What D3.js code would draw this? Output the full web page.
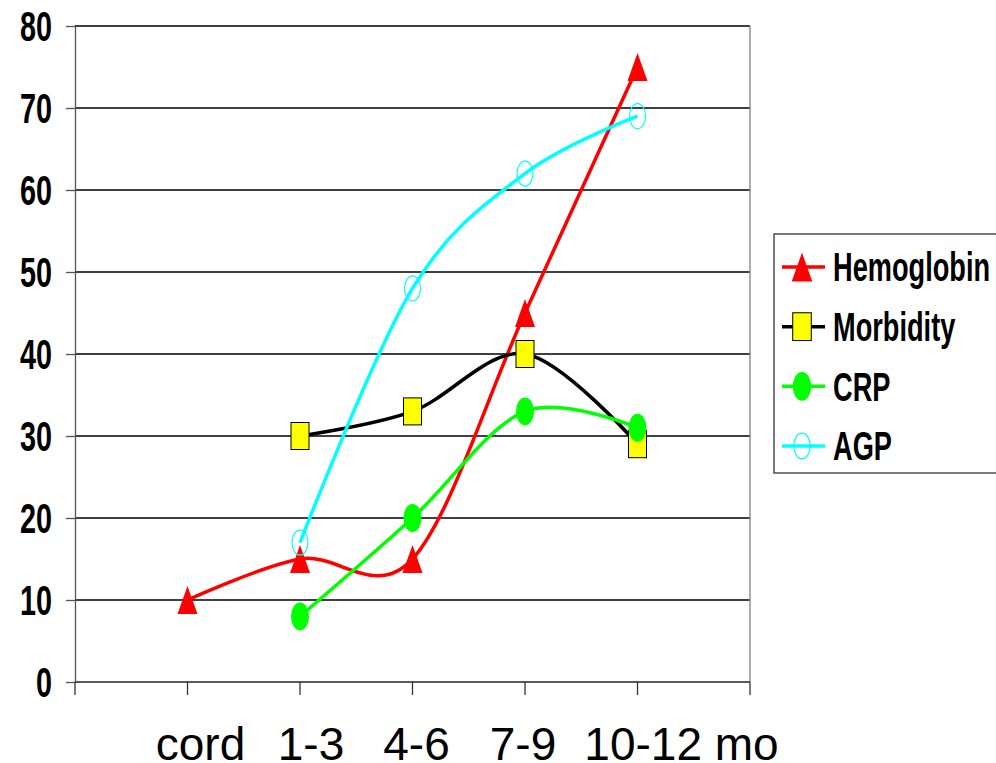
<!DOCTYPE html>
<html>
<head>
<meta charset="utf-8">
<script src="https://cdn.jsdelivr.net/npm/d3@7"></script>
<style>
  body { margin: 0; background: #fff; }
  svg { display: block; font-family: Arial, "Liberation Sans", sans-serif; }
</style>
</head>
<body>
<div id="chart"></div>
<script>
// categories and values
var categories = ["cord", "1-3", "4-6", "7-9", "10-12 mo"];
var yTicks = [0, 10, 20, 30, 40, 50, 60, 70, 80];
var seriesNames = ["Hemoglobin", "Morbidity", "CRP", "AGP"];
var hemoglobin = [10, 15, 15, 45, 75];
var morbidity = [null, 30, 33, 40, 29];
var crp = [null, 8, 20, 33, 31];
var agp = [null, 17, 48, 62, 69];

var width = 996, height = 763;
var plot = {left: 75, right: 750, top: 26, bottom: 682};

var svg = d3.select("#chart")
  .append("svg")
    .attr("width", width)
    .attr("height", height);

var x = d3.scalePoint()
  .domain(categories)
  .range([plot.left, plot.right])
  .padding(1);

var y = d3.scaleLinear()
  .domain([0, 80])
  .range([plot.bottom, plot.top]);

// gridlines
svg.append("g")
  .selectAll("line")
  .data(yTicks.filter(function(d) { return d > 0; }))
  .enter()
  .append("line")
    .attr("x1", plot.left).attr("x2", plot.right)
    .attr("y1", function(d) { return y(d); })
    .attr("y2", function(d) { return y(d); })
    .attr("stroke", "#000")
    .attr("stroke-width", 1.3);

// right border of plot area
svg.append("line")
  .attr("x1", plot.right).attr("x2", plot.right)
  .attr("y1", plot.top).attr("y2", plot.bottom)
  .attr("stroke", "#808080")
  .attr("stroke-width", 1.3);

// y axis
var yAxis = svg.append("g")
  .attr("transform", "translate(" + plot.left + ",0)")
  .call(d3.axisLeft(y).tickValues(yTicks).tickSize(9).tickSizeOuter(0).tickFormat(""));
yAxis.select(".domain").attr("stroke", "#555").attr("stroke-width", 1.3);
yAxis.selectAll(".tick line").attr("stroke", "#555").attr("stroke-width", 1.3);

svg.append("g")
  .selectAll("text")
  .data(yTicks)
  .enter()
  .append("text")
    .attr("transform", function(d) { return "translate(52," + y(d) + ") scale(0.67,1)"; })
    .attr("text-anchor", "end")
    .attr("dy", "0.36em")
    .style("font-size", "43px")
    .style("font-weight", "bold")
    .text(function(d) { return d; });

// x axis: ticks at the plot edges and at every category
var xTickPos = [plot.left].concat(categories.map(function(c) { return x(c); }), [plot.right]);
svg.append("line")
  .attr("x1", plot.left).attr("x2", plot.right)
  .attr("y1", plot.bottom).attr("y2", plot.bottom)
  .attr("stroke", "#222")
  .attr("stroke-width", 1.3);
svg.append("g")
  .selectAll("line")
  .data(xTickPos)
  .enter()
  .append("line")
    .attr("x1", function(d) { return d; })
    .attr("x2", function(d) { return d; })
    .attr("y1", plot.bottom).attr("y2", plot.bottom + 13)
    .attr("stroke", "#333")
    .attr("stroke-width", 1.3);

// category labels sit a little off their ticks, like the typed label row
var labelShift = [13, 11, 4, -2, 44];
svg.append("g")
  .selectAll("text")
  .data(categories)
  .enter()
  .append("text")
    .attr("x", function(d, i) { return x(d) + labelShift[i]; })
    .attr("y", 760)
    .attr("text-anchor", "middle")
    .style("font-size", "46px")
    .text(function(d) { return d; });

// series
var series = [
  {name: seriesNames[0], values: hemoglobin, color: "#ff0000", marker: "triangle"},
  {name: seriesNames[1], values: morbidity, color: "#000000", marker: "square"},
  {name: seriesNames[2], values: crp, color: "#00ff00", marker: "circle"},
  {name: seriesNames[3], values: agp, color: "#00ffff", marker: "open"}
];

var line = d3.line()
  .x(function(d) { return x(d.c); })
  .y(function(d) { return y(d.v); })
  .curve(d3.curveCardinal.tension(0));

function drawMarker(g, type, cx, cy, s) {
  if (type == "triangle") {
    g.append("path")
      .attr("d", "M" + cx + "," + (cy - 14 * s) + "L" + (cx + 10 * s) + "," + (cy + 14 * s) + "L" + (cx - 10 * s) + "," + (cy + 14 * s) + "Z")
      .attr("fill", "#ff0000");
  } else if (type == "square") {
    g.append("rect")
      .attr("x", cx - 9 * s).attr("y", cy - 13.5 * s)
      .attr("width", 18 * s).attr("height", 27 * s)
      .attr("fill", "#ffff00")
      .attr("stroke", "#000")
      .attr("stroke-width", 1);
  } else if (type == "circle") {
    g.append("ellipse")
      .attr("cx", cx).attr("cy", cy)
      .attr("rx", 9 * s).attr("ry", 14 * s)
      .attr("fill", "#00ff00");
  } else {
    g.append("ellipse")
      .attr("cx", cx).attr("cy", cy)
      .attr("rx", 8 * s).attr("ry", 12.5 * s)
      .attr("fill", "none")
      .attr("stroke", "#00ffff")
      .attr("stroke-width", 1.2);
  }
}

series.forEach(function(s) {
  var pts = categories.map(function(c, i) { return {c: c, v: s.values[i]}; })
    .filter(function(d) { return d.v != null; });
  var g = svg.append("g");
  g.append("path")
    .datum(pts)
    .attr("d", line)
    .attr("fill", "none")
    .attr("stroke", s.color)
    .attr("stroke-width", 3.5);
  pts.forEach(function(d) {
    drawMarker(g, s.marker, x(d.c), y(d.v), 1);
  });
});

// legend
var legend = svg.append("g");
legend.append("rect")
  .attr("x", 774).attr("y", 234)
  .attr("width", 240).attr("height", 239)
  .attr("fill", "#fff")
  .attr("stroke", "#333")
  .attr("stroke-width", 1.3);

var legendY = d3.scalePoint()
  .domain(seriesNames)
  .range([267, 446]);

series.forEach(function(s) {
  var ly = legendY(s.name);
  legend.append("line")
    .attr("x1", 782).attr("x2", 825)
    .attr("y1", ly).attr("y2", ly)
    .attr("stroke", s.color)
    .attr("stroke-width", 3.5);
  drawMarker(legend, s.marker, 802, ly, 1.03);
  legend.append("text")
    .attr("transform", "translate(833," + ly + ") scale(0.68,1)")
    .attr("dy", "0.36em")
    .style("font-size", "40px")
    .style("font-weight", "bold")
    .text(s.name);
});
</script>
</body>
</html>
